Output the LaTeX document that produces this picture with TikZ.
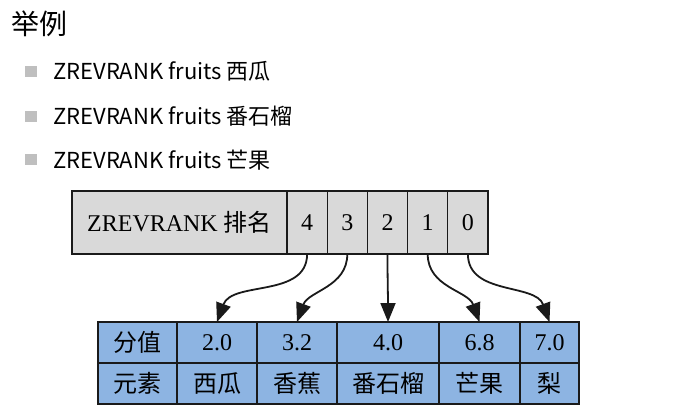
\documentclass[tikz,border=0pt]{standalone}
\usepackage{fontspec}
\usetikzlibrary{positioning,arrows.meta}
\setmainfont{Liberation Serif}
\newfontfamily\cjk{Noto Sans CJK SC}
\definecolor{cellgray}{HTML}{D9D9D9}
\definecolor{cellblue}{HTML}{8DB4E2}
\definecolor{bulletgray}{HTML}{BFBFBF}
\definecolor{linegray}{HTML}{1A1A1A}

\begin{document}
\begin{tikzpicture}[
    x=1pt, y=-1pt,
    rankcell/.style={rectangle, draw=linegray, line width=1.3pt, fill=cellgray, minimum width=40.2pt, minimum height=63pt, inner sep=0pt, outer sep=0pt, font=\fontsize{24}{26}\selectfont},
    setcell/.style={rectangle, draw=linegray, line width=1.3pt, fill=cellblue, minimum height=41pt, inner sep=0pt, outer sep=0pt, font=\fontsize{24}{26}\selectfont},
    link/.style={-{Triangle[length=19pt,width=15pt]}, line width=1.8pt, linegray},
    bullet/.style={rectangle, fill=bulletgray, minimum width=12pt, minimum height=11pt, inner sep=0pt},
    item/.style={anchor=west, inner sep=0pt, font=\cjk\fontsize{22}{24}\selectfont}
  ]
  \fill[white] (0,0) rectangle (695,406);
  \useasboundingbox (0,0) rectangle (695,406);

  % Title and list
  \node[anchor=west, inner sep=0pt, font=\cjk\fontsize{28}{30}\selectfont] (title) at (11,24) {举例};
  \foreach \y/\fruit [count=\k] in {71.5/西瓜, 116.5/番石榴, 160/芒果} {
    \node[bullet] (b\k) at (31,\y) {};
    \node[item] (t\k) at (53,\y) {ZREVRANK fruits \fruit};
  }

  % Rank row
  \node[rankcell, minimum width=215pt, font=\fontsize{24}{26}\selectfont] (rlabel) at (179.5,222.5) {ZREVRANK {\cjk 排名}};
  \foreach \r [remember=\r as \p (initially label)] in {4,3,2,1,0}
    \node[rankcell, right=0pt of r\p] (r\r) {\r};

  % Sorted set table
  \node[setcell, minimum width=79pt] (s0) at (137.5,342.5) {\cjk 分值};
  \node[setcell, minimum width=79pt, below=0pt of s0] (m0) {\cjk 元素};
  \foreach \v/\m/\w [count=\i] in {2.0/西瓜/80, 3.2/香蕉/80, 4.0/番石榴/102, 6.8/芒果/81, 7.0/梨/59} {
    \pgfmathtruncatemacro{\p}{\i-1}
    \node[setcell, minimum width=\w pt, right=0pt of s\p] (s\i) {\v};
    \node[setcell, minimum width=\w pt, right=0pt of m\p] (m\i) {\cjk \m};
  }

  % Arrows
  \foreach \r/\i/\a in {4/1/70, 3/2/70, 2/3/90, 1/4/110, 0/5/110}
    \draw[link] (r\r.south) to[out=-90, in=\a] (s\i.north);
\end{tikzpicture}
\end{document}
